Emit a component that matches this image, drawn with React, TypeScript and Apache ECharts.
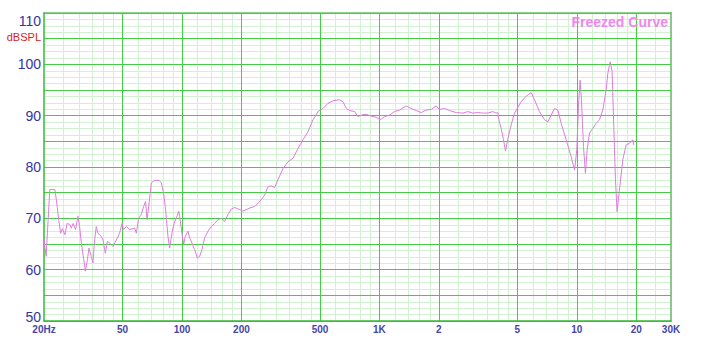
import React, { useEffect, useRef } from 'react';
import * as echarts from 'echarts';

// Frequency response (Hz, dBSPL)
const bassResponse: [number, number][] = [
  [20, 65.8], [20.5, 62.6], [21.4, 75.6], [22.7, 75.6], [23.1, 73.6], [23.8, 69.4], [24.3, 67.1], [24.8, 68],
  [25.5, 66.8], [26.2, 69], [27.0, 68.8], [27.5, 68.1], [28.1, 69], [28.9, 67.8], [29.7, 70.4], [30.3, 68.4],
  [30.9, 65.2], [31.8, 62], [32.4, 59.7], [33.2, 62], [33.8, 64.2], [34.7, 62.6], [35.4, 61.3], [36.1, 65.8],
  [36.8, 68.4], [37.5, 67.1], [39.0, 66.5], [39.8, 65.8], [40.9, 63.2], [41.9, 65.5], [43.0, 65.2], [44.7, 64.5],
  [46.5, 65.8], [48.3, 67.1], [49.7, 69], [50.6, 67.8], [52.3, 68.4], [54.3, 67.8], [57.6, 68.1], [58.7, 67.1],
  [60.3, 70], [62.2, 70.7], [63.9, 72.3], [65.4, 73.3], [66.5, 69.7], [68.0, 72.6], [69.9, 76.9], [72.7, 77.4],
  [76.5, 77.4], [78.6, 76.9], [80.7, 74.9], [82.6, 71.7], [84.9, 66.5], [86.6, 64.2], [89.0, 67.1], [91.1, 69],
  [93.6, 70], [96.2, 71.4], [97.3, 70.4], [100, 67.1], [102, 64.9], [103.9, 66.5], [107.2, 67.5], [109.3, 66.2],
  [112.3, 65.2], [115.9, 63.9], [119.5, 62.3], [122.9, 62.6], [126.2, 63.9], [130.2, 66.2], [135.4, 67.5],
  [140.8, 68.4], [146.3, 69], [152.1, 69.7], [158.1, 70], [164.4, 69.4], [170.9, 70.7], [177.7, 71.8],
  [184.7, 72.1], [195.9, 71.7],
];

const midResponse: [number, number][] = [
  [203.6, 71.4], [220, 72], [233, 72.3], [247, 73.2], [262, 74.5], [273, 76.2], [283, 76.3], [295, 76],
  [306, 77.5], [325, 79.7], [344, 81], [365, 81.7], [387, 83.6], [410, 85.3], [435, 86.9], [461, 89.2],
  [489, 90.8], [518, 91.4], [549, 92.4], [582, 92.9], [629, 93.1], [654, 92.7], [680, 91.4], [707, 91],
  [749, 90.8], [778, 89.8], [809, 90.1], [858, 90.3], [909, 89.9], [964, 89.7], [1010, 89.2], [1062, 89.8],
  [1126, 90.1], [1193, 90.8], [1265, 91.1], [1367, 91.9], [1449, 91.4], [1536, 91], [1629, 90.6], [1726, 91.1],
  [1830, 91.2], [1940, 91.9], [2016, 91.2], [2138, 91.4], [2266, 91], [2449, 90.6], [2647, 90.5], [2806, 90.8],
  [2974, 90.5], [3153, 90.6], [3342, 90.5], [3543, 90.5], [3755, 90.8], [3904, 90.5],
];

const trebleResponse: [number, number][] = [
  [3981, 90.6], [4028, 89.2], [4139, 87.5], [4253, 85.3], [4353, 83.1], [4473, 85.5], [4650, 88.2], [4834, 90.5],
  [5025, 91.6], [5224, 92.7], [5538, 93.8], [5871, 94.5], [6104, 93.1], [6471, 90.8], [6861, 89.2], [7133, 88.8],
  [7416, 90.1], [7710, 91.4], [8016, 91.1], [8334, 88.5], [8835, 85.3], [9367, 82], [9738, 79.4], [10000, 83.3],
  [10194, 91.8], [10394, 96.9], [10557, 93.1], [10806, 84], [11061, 78.8], [11278, 83.3], [11589, 86.6],
  [12049, 87.5], [12527, 88.5], [13024, 89.2], [13540, 91.1], [14077, 95], [14353, 98.2], [14750, 100.5],
  [15098, 98.6], [15391, 87.9], [15692, 77.5], [15999, 71.3], [16442, 75.5], [17094, 81.4], [17773, 84.3],
  [18478, 84.6], [19210, 85.3], [19436, 84.3],
];

// Axis ticks
const xLabelFreqs = [20, 50, 100, 200, 500, 1000, 2000, 5000, 10000, 20000, 30000];
const xLabelTexts = ['20Hz', '50', '100', '200', '500', '1K', '2', '5', '10', '20', '30K'];
const xMajorLines = [50, 100, 200, 500, 1000, 2000, 5000, 10000, 20000];
const xMinorLines = [
  25, 30, 35, 40, 45, 60, 70, 80, 90, 120, 140, 160, 180, 250, 300, 350, 400, 450,
  600, 700, 800, 900, 1200, 1400, 1600, 1800, 2500, 3000, 3500, 4000, 4500,
  6000, 7000, 8000, 9000, 12000, 14000, 16000, 18000, 25000,
];
const yMin = 50;
const yMax = 110;
const yMajorStep = 5;
const yMinorStep = 1.25;
const yUnit = 'dBSPL';

const FONT = '"Liberation Sans", Arial, sans-serif';
const L = (f: number) => Math.log10(f);

export default function App() {
  const ref = useRef<HTMLDivElement>(null);

  useEffect(() => {
    if (!ref.current) return;
    const chart = echarts.init(ref.current, undefined, { renderer: 'svg' });
    const labelPos = xLabelFreqs.map(L);
    const labelFor = (v: number) => {
      let best = 0;
      let bd = Infinity;
      labelPos.forEach((p, i) => {
        const d = Math.abs(p - v);
        if (d < bd) { bd = d; best = i; }
      });
      return bd < 1e-6 ? xLabelTexts[best] : '';
    };
    const yLabel = (v: number) => {
      if (v === yMax) return `{top|${v}}`;
      if (v === yMin) return `{bot|${v}}`;
      if (v % 10 === 0) return String(v);
      if (v === 105) return `{u|${yUnit}}`;
      return '';
    };

    chart.setOption({
      animation: false,
      backgroundColor: '#ffffff',
      grid: { left: 44, right: 55, top: 13, bottom: 33, containLabel: false },
      xAxis: [
        { type: 'log', logBase: 10, min: 20, max: 30000, show: false, position: 'bottom' },
        {
          type: 'value', min: L(20), max: L(30000), position: 'bottom', z: 1,
          axisLine: { show: true, onZero: false, lineStyle: { color: '#33bb33', width: 1.5 } },
          axisTick: { show: false, customValues: xMajorLines.map(L) },
          axisLabel: {
            customValues: labelPos, formatter: (v: number) => labelFor(v),
            color: '#4545a8', fontSize: 10, fontWeight: 'bold', margin: 3, fontFamily: FONT,
          },
          splitLine: { show: true, lineStyle: { color: '#44cc44', width: 1 } },
        },
        {
          type: 'value', min: L(20), max: L(30000), position: 'top', z: 0,
          axisLine: { show: true, onZero: false, lineStyle: { color: '#66cc66', width: 1.5 } },
          axisTick: { show: false, customValues: xMinorLines.map(L) },
          axisLabel: { show: false },
          splitLine: { show: true, lineStyle: { color: '#d2f0d2', width: 1 } },
        },
      ],
      yAxis: [
        {
          type: 'value', min: yMin, max: yMax, interval: yMajorStep, position: 'left', z: 1,
          axisLine: { show: true, onZero: false, lineStyle: { color: '#33bb33', width: 1.5 } },
          axisTick: { show: false },
          axisLabel: {
            formatter: yLabel,
            color: '#3434a0', fontSize: 14, margin: 3, fontFamily: FONT,
            rich: {
              u: { color: '#d42222', fontSize: 11, fontFamily: FONT, padding: [0, 0, 4, 0] },
              top: { color: '#3434a0', fontSize: 14, fontFamily: FONT, padding: [16, 0, 0, 0] },
              bot: { color: '#3434a0', fontSize: 14, fontFamily: FONT, padding: [0, 0, 8, 0] },
            },
          },
          splitLine: { show: true, lineStyle: { color: '#44cc44', width: 1 } },
        },
        {
          type: 'value', min: yMin, max: yMax, interval: yMinorStep, position: 'right', z: 0,
          axisLine: { show: true, onZero: false, lineStyle: { color: '#8cc88c', width: 2 } },
          axisTick: { show: false },
          axisLabel: { show: false },
          splitLine: { show: true, lineStyle: { color: '#d2f0d2', width: 1 } },
        },
      ],
      graphic: [
        {
          type: 'text', x: 668, y: 21.5, z: 10,
          style: {
            text: 'Freezed Curve', fill: '#ee88ee', fontSize: 14, fontWeight: 'bold',
            fontFamily: FONT, align: 'right', verticalAlign: 'middle',
          },
        },
      ],
      series: [
        {
          type: 'line', xAxisIndex: 0, yAxisIndex: 0, z: 3,
          data: [...bassResponse, ...midResponse, ...trebleResponse],
          showSymbol: false, symbol: 'none',
          lineStyle: { color: '#dd7ddd', width: 1 },
        },
      ],
    });
    return () => chart.dispose();
  }, []);

  return (
    <div
      ref={ref}
      style={{ position: 'absolute', left: 0, top: 0, width: 726, height: 354, background: '#fff' }}
    />
  );
}
